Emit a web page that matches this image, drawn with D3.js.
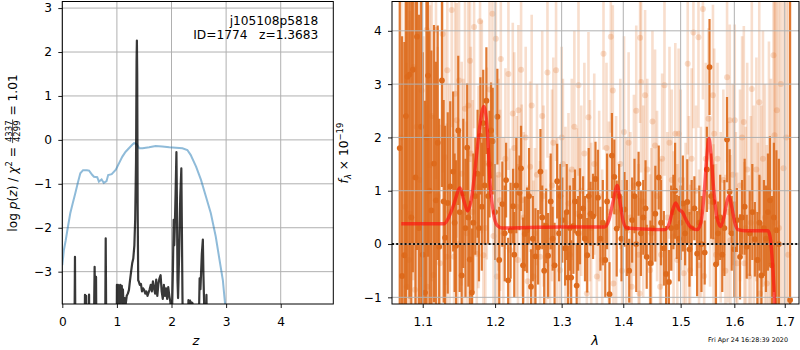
<!DOCTYPE html>
<html><head><meta charset="utf-8">
<script src="https://cdn.jsdelivr.net/npm/d3@7"></script>
<style>body{margin:0;background:#fff} svg{font-family:"DejaVu Sans",sans-serif}</style>
</head><body><svg id="c" width="800" height="350"></svg>
<script>
// ---------- LEFT PANEL DATA ----------
const zTicks = [0,1,2,3,4];
const pzTicks = [-3,-2,-1,0,1,2,3];
const chiZ = [0,0.03,0.062,0.10,0.146,0.19,0.237,0.28,0.33,0.38,0.45,0.49,0.55,0.58,0.64,0.67,0.72,0.76,0.81,0.84,0.905,0.98,1.04,1.10,1.16,1.22,1.28,1.315,1.36,1.41,1.47,1.59,1.71,1.83,1.96,2.20,2.29,2.35,2.45,2.54,2.63,2.72,2.81,2.87,2.94,2.98,3.02];
const chiVal = [-2.85,-2.5,-2.29,-2.0,-1.67,-1.45,-1.22,-1.0,-0.76,-0.69,-0.69,-0.70,-0.80,-0.84,-0.85,-0.95,-0.90,-0.98,-0.94,-0.80,-0.78,-0.68,-0.53,-0.38,-0.27,-0.19,-0.11,-0.075,-0.09,-0.19,-0.19,-0.17,-0.14,-0.15,-0.17,-0.19,-0.23,-0.34,-0.61,-0.91,-1.29,-1.67,-2.20,-2.66,-3.19,-3.72,-4.2];
const pzZ = [0.00,0.215,0.225,0.232,0.238,0.25,0.40,0.41,0.415,0.42,0.432,0.437,0.443,0.485,0.49,0.495,0.575,0.585,0.592,0.60,0.61,0.618,0.625,0.64,0.78,0.789,0.795,0.801,0.81,0.99,
 1.00,1.01,1.02,1.03,1.04,1.05,1.06,1.075,1.09,1.10,1.11,1.125,1.14,1.16,1.18,1.20,1.22,1.24,1.26,1.28,1.30,1.32,1.335,1.35,1.36,1.366,1.372,1.38,1.39,
 1.40,1.42,1.44,1.46,1.48,1.50,1.52,1.54,1.56,1.58,1.60,1.62,1.64,1.66,1.68,1.70,1.72,1.74,1.76,1.78,1.80,1.82,1.84,1.86,1.88,1.90,1.92,1.94,1.96,1.98,
 2.00,2.025,2.04,2.05,2.06,2.075,2.09,2.10,2.11,2.12,2.14,2.16,2.18,2.19,2.20,2.21,2.30,2.31,2.325,2.34,2.355,2.37,2.385,2.40,2.50,2.515,2.53,2.555,2.574,2.585,2.595,2.605,2.63,2.64,2.65,2.70,4.96];
const pzVal = [-6,-6,-4,-2.66,-4,-6,-6,-4.5,-3.53,-4.5,-4.5,-3.55,-4.5,-4.5,-3.52,-4.5,-6,-3.6,-2.89,-3.6,-3.5,-3.12,-4.5,-6,-6,-3.5,-2.24,-3.5,-6,-6,
 -3.3,-3.9,-3.3,-3.8,-3.35,-3.9,-3.3,-3.7,-3.32,-3.8,-3.4,-3.9,-3.6,-3.75,-3.55,-3.5,-3.42,-3.2,-3.0,-2.81,-2.7,-2.4,-1.8,-0.5,1.8,2.26,1.5,-1.5,-3.2,
 -3.22,-3.30,-3.28,-3.45,-3.38,-3.42,-3.50,-3.45,-3.55,-3.48,-3.40,-3.30,-3.45,-3.22,-3.38,-3.50,-3.18,-3.55,-3.28,-3.15,-3.08,-3.45,-3.62,-3.30,-3.55,-3.38,-3.62,-3.35,-3.55,-3.70,
 -4.5,-3.0,-1.82,-2.4,-2.0,-1.2,-0.28,-1.5,-3.2,-3.6,-2.6,-1.3,-0.65,-2.0,-3.5,-4.5,-4.5,-3.65,-3.72,-3.66,-4.0,-3.7,-3.72,-4.2,-4.2,-3.15,-3.4,-2.6,-2.27,-3.1,-3.6,-4.2,-4.2,-3.53,-4.5,-6,-8];

// ---------- RIGHT PANEL DATA ----------
const lamTicks = [1.1,1.2,1.3,1.4,1.5,1.6,1.7];
const fluxTicks = [-1,0,1,2,3,4];
const darkWave = [
 1.070,1.073,1.076,1.078,1.080,1.0825,1.085,1.087,1.0905,1.0925,
 1.095,1.098,1.100,1.103,1.105,1.107,1.109,1.1115,1.115,1.1175,
 1.120,1.122,1.1257,1.128,1.130,1.1336,1.137,1.141,1.143,1.145,
 1.148,1.150,1.1527,1.155,1.158,1.1604,1.162,1.164,1.167,1.169,
 1.1718,1.175,1.177,1.179,1.181,1.183,1.185,1.1875,1.190,1.192,
 1.1942,1.1966,1.200,1.2033,1.206,1.2105,1.214,1.216,1.219,1.2226,
 1.2263,1.228,1.231,1.2357,1.238,1.241,1.2436,1.247,1.250,1.253,
 1.2557,1.2597,1.2637,1.2673,1.270,1.273,1.276,1.279,1.283,1.286,
 1.289,1.293,1.296,1.298,1.301,1.3054,1.308,1.310,1.313,1.315,
 1.3185,1.321,1.3237,1.326,1.329,1.334,1.337,1.3406,1.343,1.346,
 1.350,1.354,1.358,1.362,1.366,1.370,1.373,1.377,1.381,1.385,
 1.389,1.393,1.397,1.402,1.406,1.410,1.415,1.419,1.422,1.426,
 1.430,1.434,1.438,1.440,1.4465,1.450,1.455,1.461,1.465,1.470,
 1.474,1.479,1.483,1.487,1.490,1.493,1.497,1.500,1.504,1.508,
 1.512,1.516,1.520,1.525,1.530,1.534,1.538,1.544,1.548,1.553,
 1.556,1.560,1.565,1.569,1.573,1.577,1.581,1.586,1.591,1.595,
 1.600,1.605,1.611,1.615,1.620,1.624,1.630,1.635,1.640,1.645,
 1.649,1.653,1.658,1.662,1.666,1.670,1.674,1.678,1.683,1.688,
 1.711];
const darkFlux = [
 1.80,-0.60,-0.21,2.40,3.14,3.18,0.50,3.27,1.25,3.89,
 0.30,2.20,-0.20,-0.91,2.00,3.16,1.00,0.63,1.51,0.82,
 1.90,-0.05,3.07,0.80,0.12,0.77,1.08,1.36,0.40,-0.03,
 2.13,0.60,-0.59,0.95,0.30,1.81,0.50,-0.29,-0.91,0.40,
 0.90,1.32,0.30,2.03,0.70,2.27,1.10,2.69,0.90,1.50,
 2.13,1.93,0.60,2.39,-0.30,0.75,0.20,1.20,-0.68,0.25,
 0.71,-0.20,1.10,0.96,1.42,-0.40,0.19,0.26,0.90,-0.80,
 0.10,-0.23,-0.06,1.36,0.50,-0.50,0.34,-0.22,0.80,0.10,
 -0.40,1.18,0.20,0.90,0.45,-0.08,0.60,-0.63,0.30,-0.63,
 0.34,0.80,-0.78,0.20,0.52,0.67,0.10,-0.21,0.90,0.57,
 0.52,1.22,0.87,0.10,0.40,-0.30,0.80,-0.94,1.66,1.26,
 0.29,0.90,0.10,0.65,0.30,-0.50,0.45,0.90,0.00,1.13,
 0.20,0.50,0.67,-0.24,-0.36,0.30,0.57,1.25,0.40,-0.08,
 -0.56,-0.71,0.30,0.60,1.00,0.32,0.10,0.40,0.76,0.20,
 0.79,-0.10,0.30,0.67,-0.18,0.40,0.00,-0.16,1.40,3.32,
 0.90,0.79,-0.38,0.20,0.50,-0.20,0.30,1.96,0.98,0.20,
 -0.10,0.45,-0.24,0.50,0.70,-0.05,0.20,0.60,0.09,-0.30,
 0.40,-0.59,0.30,0.10,0.60,0.82,-0.40,0.50,0.26,0.00,
 -1.05];
const darkErr = [
 5.0,4.5,4.0,4.5,4.0,4.2,4.5,3.8,4.0,4.0,
 4.0,3.5,3.8,3.6,3.2,3.4,3.0,3.0,2.6,2.6,
 2.2,2.4,2.0,1.9,2.1,1.7,1.6,1.5,1.3,1.6,
 1.4,1.5,1.2,1.4,1.3,1.2,1.3,1.1,1.2,1.3,
 1.1,1.2,1.0,1.1,1.2,1.0,1.1,1.0,0.9,1.0,
 0.9,1.0,0.9,0.9,1.0,0.8,0.9,0.7,0.8,0.9,
 0.7,0.8,0.9,0.7,0.8,0.9,0.7,0.8,0.9,0.7,
 0.8,0.9,0.7,0.8,0.6,0.9,0.7,0.8,0.9,0.6,
 0.8,0.7,0.9,0.6,0.8,0.7,0.9,0.6,0.8,0.7,
 0.9,0.6,0.8,0.7,0.9,0.6,0.8,0.7,0.9,0.6,
 0.8,0.7,0.9,0.6,0.8,0.7,0.9,0.6,0.8,0.7,
 0.9,0.6,0.8,0.7,0.9,0.6,0.8,0.7,0.9,0.6,
 0.8,0.7,0.9,0.6,0.8,0.7,0.9,0.6,0.8,0.7,
 0.9,0.6,0.8,0.7,0.9,0.6,0.8,0.7,0.9,0.6,
 0.8,0.7,0.9,0.6,0.8,0.7,0.9,0.6,0.8,0.9,
 0.8,0.7,0.9,0.6,0.8,0.7,0.9,0.8,0.8,0.7,
 0.9,0.6,0.8,0.7,0.9,0.6,0.8,0.9,0.7,0.9,
 0.9,1.0,0.9,1.0,1.1,1.2,1.3,1.4,1.5,1.6,
 10];
const lightWave = [
 1.072,1.0768,1.079,1.082,1.0833,1.0876,1.0897,1.092,1.0964,1.0986,
 1.101,1.1053,1.106,1.1097,1.112,1.1141,1.1177,1.120,1.1231,1.1267,
 1.1299,1.1322,1.1330,1.136,1.1390,1.1422,1.1436,1.1459,1.1475,1.1491,
 1.1528,1.155,1.1574,1.1597,1.162,1.1644,1.1655,1.168,1.1701,1.1739,
 1.1762,1.1785,1.181,1.1833,1.186,1.1881,1.192,1.1962,1.1977,1.2011,
 1.2026,1.205,1.2072,1.2083,1.212,1.215,1.2194,1.2218,1.2258,1.228,
 1.2317,1.2335,1.2341,1.2381,1.2391,1.242,1.245,1.248,1.2516,1.254,
 1.2566,1.259,1.262,1.2667,1.270,1.272,1.276,1.2780,1.2820,1.285,
 1.287,1.2913,1.293,1.2976,1.300,1.302,1.306,1.3107,1.313,1.316,
 1.320,1.3240,1.3266,1.328,1.331,1.336,1.3400,1.3426,1.345,1.347,
 1.352,1.3562,1.360,1.365,1.3671,1.372,1.376,1.3792,1.3825,1.3835,
 1.388,1.395,1.398,1.4013,1.405,1.409,1.412,1.4143,1.418,1.422,
 1.426,1.4276,1.4286,1.4303,1.434,1.4372,1.441,1.4458,1.448,1.450,
 1.4545,1.458,1.4634,1.465,1.467,1.4711,1.476,1.480,1.484,1.4873,
 1.4904,1.494,1.4963,1.500,1.5054,1.509,1.5128,1.515,1.5171,1.520,
 1.5232,1.528,1.5325,1.5335,1.537,1.5407,1.543,1.546,1.5511,1.554,
 1.5594,1.5605,1.5618,1.565,1.568,1.574,1.579,1.583,1.5861,1.588,
 1.5912,1.5925,1.597,1.6008,1.603,1.6055,1.611,1.615,1.6184,1.6195,
 1.622,1.625,1.6284,1.632,1.6340,1.638,1.643,1.646,1.6487,1.6504,
 1.653,1.656,1.660,1.6638,1.668,1.672,1.6772,1.6792,1.681,1.6840,
 1.688,1.692,1.6975,1.703,1.707];
const lightFlux = [
 2.00,0.70,-0.80,-0.30,0.57,3.32,-0.86,2.20,1.20,2.88,
 0.40,4.02,-0.80,1.48,2.40,-0.58,4.02,0.90,-0.36,3.94,
 1.63,-0.24,3.26,0.60,4.39,-0.24,2.82,2.32,0.00,3.07,
 1.32,0.90,2.54,0.20,2.60,3.44,1.70,0.60,4.07,-0.18,
 1.07,4.18,2.20,-0.21,0.30,1.51,2.90,4.32,0.15,3.85,
 -0.61,1.30,0.82,3.47,0.20,1.60,3.19,-0.11,2.45,1.80,
 0.70,-0.30,2.51,3.27,0.82,0.50,2.00,-0.70,1.45,2.60,
 -0.61,0.20,1.30,-0.24,2.40,0.90,-0.40,3.22,-0.05,1.10,
 1.90,3.26,0.20,-0.49,2.00,1.50,0.40,0.76,-0.20,1.40,
 2.20,0.57,2.98,0.20,1.00,1.70,-0.93,2.38,1.00,0.30,
 1.50,-0.61,0.90,-0.30,3.57,1.80,0.60,3.89,2.88,-0.74,
 0.60,1.50,-0.50,2.10,0.40,1.90,0.50,-0.80,1.10,2.50,
 -0.20,-0.93,3.87,3.04,0.80,2.79,1.40,-0.49,0.20,2.30,
 1.85,0.90,-0.80,-0.20,1.60,2.98,0.50,1.90,1.20,0.14,
 2.07,-0.30,2.07,1.20,-0.55,0.30,3.38,0.60,-0.49,1.60,
 3.97,1.00,3.88,-0.40,0.60,4.41,-0.60,1.60,2.35,0.80,
 2.79,0.07,2.07,-0.20,1.60,0.50,1.20,-0.50,3.13,0.60,
 2.32,0.07,1.30,2.32,0.50,-0.36,1.10,2.00,2.29,-0.36,
 0.30,1.40,-0.61,0.40,2.91,0.60,1.40,-0.30,2.66,-0.93,
 0.30,1.60,0.50,-0.74,1.00,-0.40,3.54,2.04,0.40,2.51,
 0.30,3.00,1.42,2.00,-0.20];
const lightErr = [
 4.5,4.0,4.2,4.5,3.8,4.0,4.2,3.6,3.8,3.5,
 3.5,3.2,3.4,3.0,3.1,3.0,2.8,2.8,2.6,2.6,
 2.4,2.5,2.3,2.4,2.2,2.3,2.1,2.2,2.3,2.0,
 2.1,2.2,2.0,2.1,2.0,1.9,2.0,2.1,1.9,2.0,
 1.9,1.8,2.0,1.9,2.0,1.8,1.9,1.8,1.9,1.8,
 1.9,1.8,1.7,1.9,1.8,1.7,1.8,1.9,1.7,1.8,
 1.7,1.8,1.6,1.7,1.8,1.6,1.7,1.8,1.6,1.7,
 1.8,1.6,1.7,1.8,1.6,1.7,1.8,1.6,1.7,1.8,
 1.6,1.7,1.8,1.6,1.7,1.6,1.8,1.7,1.6,1.7,
 1.8,1.6,1.7,1.8,1.6,1.7,1.8,1.6,1.7,1.6,
 1.7,1.8,1.6,1.7,1.8,1.6,1.7,1.8,1.6,1.7,
 1.8,1.6,1.7,1.8,1.6,1.7,1.6,1.8,1.7,1.6,
 1.7,1.8,1.6,1.7,1.8,1.6,1.7,1.8,1.6,1.7,
 1.8,1.6,1.7,1.8,1.6,1.7,1.6,1.8,1.7,1.6,
 1.7,1.8,1.6,1.7,1.8,1.6,1.7,1.8,1.6,1.7,
 1.8,1.6,1.7,1.8,1.6,1.7,1.6,1.8,1.7,1.6,
 1.7,1.8,1.6,1.7,1.8,1.6,1.7,1.8,1.6,1.7,
 1.8,1.6,1.7,1.8,1.6,1.7,1.8,1.9,1.8,1.9,
 1.9,2.0,1.9,2.0,2.1,2.0,2.1,2.2,2.1,2.2,
 2.3,2.4,2.5,2.6,2.8,3.5,4.5,5.0,5.5,5.5,
 6.0,6.0,6.0,6.5,6.5];
const modelWave = [1.072,1.100,1.129,1.135,1.142,1.1505,1.156,1.161,1.167,1.173,1.179,1.184,1.189,1.193,1.198,1.203,1.210,1.250,1.300,1.340,1.369,1.376,1.383,1.390,1.395,1.400,1.406,1.440,1.472,1.480,1.486,1.491,1.497,1.503,1.510,1.518,1.530,1.537,1.543,1.548,1.552,1.556,1.561,1.567,1.574,1.580,1.586,1.590,1.595,1.601,1.607,1.620,1.650,1.666,1.670,1.674,1.678,1.681];
const modelFlux = [0.38,0.38,0.38,0.50,0.75,1.05,0.80,0.62,0.90,1.60,2.30,2.58,2.10,1.10,0.55,0.35,0.30,0.31,0.32,0.32,0.32,0.45,0.80,1.10,0.75,0.42,0.30,0.28,0.27,0.40,0.65,0.77,0.65,0.60,0.45,0.32,0.27,0.40,0.95,1.65,1.98,1.65,1.00,0.50,0.33,0.50,0.80,0.90,0.70,0.40,0.27,0.25,0.25,0.25,0.15,-0.20,-0.80,-1.50];

const title1 = "j105108p5818";
const title2 = "ID=1774   z=1.3683";
const stamp = "Fri Apr 24 16:28:39 2020";

// ---------- DRAWING ----------
const svg = d3.select("#c");
const FS = 12.2;
const GRID = "#b0b0b0";
const ORANGE = "#dd6a1c";

// Left panel
const L = {x0:62.3, x1:333.3, y0:1.5, y1:304};
const xz = d3.scaleLinear().domain([0,4.963]).range([L.x0,L.x1]);
const yz = d3.scaleLinear().domain([-3.736,3.15]).range([L.y1,L.y0]);
const defs = svg.append("defs");
defs.append("clipPath").attr("id","clipL").append("rect").attr("x",L.x0).attr("y",L.y0).attr("width",L.x1-L.x0).attr("height",L.y1-L.y0);
const gl = svg.append("g");
gl.selectAll(".gx").data(zTicks).join("line").attr("x1",d=>xz(d)).attr("x2",d=>xz(d)).attr("y1",L.y0).attr("y2",L.y1).attr("stroke",GRID).attr("stroke-width",1);
gl.selectAll(".gy").data(pzTicks).join("line").attr("y1",d=>yz(d)).attr("y2",d=>yz(d)).attr("x1",L.x0).attr("x2",L.x1).attr("stroke",GRID).attr("stroke-width",1);
const lc = gl.append("g").attr("clip-path","url(#clipL)");
lc.append("path").datum(chiZ.map((z,i)=>[z,chiVal[i]]))
  .attr("d", d3.line().x(d=>xz(d[0])).y(d=>yz(d[1])))
  .attr("fill","none").attr("stroke","#1f77b4").attr("stroke-opacity",0.5).attr("stroke-width",2);
lc.append("path").datum(pzZ.map((z,i)=>[z,pzVal[i]]))
  .attr("d", d3.line().x(d=>xz(d[0])).y(d=>yz(d[1])))
  .attr("fill","none").attr("stroke","#000").attr("stroke-opacity",0.78).attr("stroke-width",2.2).attr("stroke-linejoin","round");
gl.append("rect").attr("x",L.x0).attr("y",L.y0).attr("width",L.x1-L.x0).attr("height",L.y1-L.y0).attr("fill","none").attr("stroke","#000").attr("stroke-width",1);
const axL = gl.append("g").attr("transform",`translate(0,${L.y1})`).call(d3.axisBottom(xz).tickValues(zTicks).tickSize(4).tickFormat(d3.format("d")));
axL.selectAll("text").attr("y",22).attr("dy",0);
const ayL = gl.append("g").attr("transform",`translate(${L.x0},0)`).call(d3.axisLeft(yz).tickValues(pzTicks).tickSize(4).tickPadding(6.3).tickFormat(d3.format("d")));
[axL,ayL].forEach(a=>{a.select(".domain").remove(); a.selectAll("text").attr("font-size",FS).attr("font-family","DejaVu Sans").attr("fill","#000"); a.selectAll("line").attr("stroke","#000").attr("stroke-width",0.9);});
gl.append("text").attr("x",318.3).attr("y",24.5).attr("text-anchor","end").attr("font-size",FS).text(title1);
gl.append("text").attr("x",318.3).attr("y",39).attr("text-anchor","end").attr("font-size",FS).style("white-space","pre").text(title2);
gl.append("text").attr("x",196).attr("y",345).attr("text-anchor","middle").attr("font-size",13).attr("font-style","italic").text("z");

// Right panel
const R = {x0:392, x1:799, y0:1.5, y1:304};
const xl = d3.scaleLog().domain([1.0601,1.7294]).range([R.x0,R.x1]);
const yf = d3.scaleLinear().domain([-1.125,4.55]).range([R.y1,R.y0]);
defs.append("clipPath").attr("id","clipR").append("rect").attr("x",R.x0).attr("y",R.y0).attr("width",R.x1-R.x0).attr("height",R.y1-R.y0);
const gr = svg.append("g");
const rc = gr.append("g").attr("clip-path","url(#clipR)");
const light = lightWave.map((w,i)=>({w,f:lightFlux[i],e:lightErr[i]})).filter(d=>d.f!==undefined&&d.e!==undefined);
const dark = darkWave.map((w,i)=>({w,f:darkFlux[i],e:darkErr[i]})).filter(d=>d.f!==undefined&&d.e!==undefined);
rc.selectAll(".lb").data(light).join("line").attr("x1",d=>xl(d.w)).attr("x2",d=>xl(d.w)).attr("y1",d=>yf(d.f-d.e)).attr("y2",d=>yf(d.f+d.e))
  .attr("stroke",ORANGE).attr("stroke-opacity",0.22).attr("stroke-width",2.6);
rc.selectAll(".lp").data(light).join("circle").attr("cx",d=>xl(d.w)).attr("cy",d=>yf(d.f)).attr("r",3).attr("fill",ORANGE).attr("fill-opacity",0.22);
rc.selectAll(".db").data(dark).join("line").attr("x1",d=>xl(d.w)).attr("x2",d=>xl(d.w)).attr("y1",d=>yf(d.f-d.e)).attr("y2",d=>yf(d.f+d.e))
  .attr("stroke",ORANGE).attr("stroke-opacity",0.9).attr("stroke-width",2.2);
rc.selectAll(".dp").data(dark).join("circle").attr("cx",d=>xl(d.w)).attr("cy",d=>yf(d.f)).attr("r",2.9).attr("fill",ORANGE);
rc.selectAll(".gx").data(lamTicks).join("line").attr("x1",d=>xl(d)).attr("x2",d=>xl(d)).attr("y1",R.y0).attr("y2",R.y1).attr("stroke",GRID).attr("stroke-width",1);
rc.selectAll(".gy").data(fluxTicks).join("line").attr("y1",d=>yf(d)).attr("y2",d=>yf(d)).attr("x1",R.x0).attr("x2",R.x1).attr("stroke",GRID).attr("stroke-width",1);
rc.append("path").datum(modelWave.map((w,i)=>[w,modelFlux[i]]))
  .attr("d", d3.line().x(d=>xl(d[0])).y(d=>yf(d[1])).curve(d3.curveMonotoneX))
  .attr("fill","none").attr("stroke","#ff1010").attr("stroke-opacity",0.65).attr("stroke-width",3.4).attr("stroke-linejoin","round");
rc.append("line").attr("x1",R.x0).attr("x2",R.x1).attr("y1",yf(0)).attr("y2",yf(0)).attr("stroke","#111").attr("stroke-width",2).attr("stroke-dasharray","2,2.2");
gr.append("rect").attr("x",R.x0).attr("y",R.y0).attr("width",R.x1-R.x0).attr("height",R.y1-R.y0).attr("fill","none").attr("stroke","#000").attr("stroke-width",1);
const axR = gr.append("g").attr("transform",`translate(0,${R.y1})`).call(d3.axisBottom(xl).tickValues(lamTicks).tickSize(4).tickFormat(d3.format(".1f")));
axR.selectAll("text").attr("y",21.5).attr("dy",0);
const ayR = gr.append("g").attr("transform",`translate(${R.x0},0)`).call(d3.axisLeft(yf).tickValues(fluxTicks).tickSize(4).tickPadding(6.3).tickFormat(d3.format("d")));
[axR,ayR].forEach(a=>{a.select(".domain").remove(); a.selectAll("text").attr("font-size",FS).attr("font-family","DejaVu Sans").attr("fill","#000"); a.selectAll("line").attr("stroke","#000").attr("stroke-width",0.9);});
gr.append("text").attr("x",595).attr("y",345).attr("text-anchor","middle").attr("font-size",13).attr("font-style","italic").text("λ");
svg.append("text").attr("x",788).attr("y",342).attr("text-anchor","end").attr("font-size",6.4).text(stamp);

// rotated math labels
function mathLabel(cx, cy, pieces){
  const g = svg.append("g").attr("transform",`translate(${cx},${cy}) rotate(-90)`);
  const items = []; let total = 0;
  pieces.forEach(p=>{
    if(p.frac){
      const n = g.append("text").attr("font-size",p.size).text(p.num);
      const d = g.append("text").attr("font-size",p.size).text(p.den);
      const nw = n.node().getComputedTextLength(), dw = d.node().getComputedTextLength();
      const w = Math.max(nw,dw)+2;
      items.push({frac:true,n,d,nw,dw,w,p}); total += w;
    } else {
      const t = g.append("text").attr("font-size",p.size||FS).attr("font-style",p.it?"italic":null).style("white-space","pre").text(p.t);
      const w = t.node().getComputedTextLength();
      items.push({t,w,p}); total += w;
    }
  });
  let cur = -total/2;
  items.forEach(it=>{
    if(it.frac){
      it.n.attr("x",cur+(it.w-it.nw)/2).attr("y",it.p.ny);
      it.d.attr("x",cur+(it.w-it.dw)/2).attr("y",it.p.dny);
      g.append("line").attr("x1",cur).attr("x2",cur+it.w).attr("y1",it.p.ly).attr("y2",it.p.ly).attr("stroke","#000").attr("stroke-width",0.7);
    } else {
      it.t.attr("x",cur).attr("y",it.p.dy||0);
    }
    cur += it.w;
  });
}
mathLabel(16.7, 153, [
  {t:"log "},{t:"p",it:true},{t:"("},{t:"z",it:true},{t:") / "},{t:"χ",it:true},{t:"2",size:8.5,dy:-4.8},{t:" = "},
  {frac:true,num:"4337",den:"4299",size:8.5,ny:-5,dny:3,ly:-4.1},{t:" = 1.01"}
]);
mathLabel(348, 153, [
  {t:"f",it:true},{t:"λ",it:true,size:8.5,dy:2.6},{t:" × 10"},{t:"−19",size:8.5,dy:-5}
]);
</script></body></html>
